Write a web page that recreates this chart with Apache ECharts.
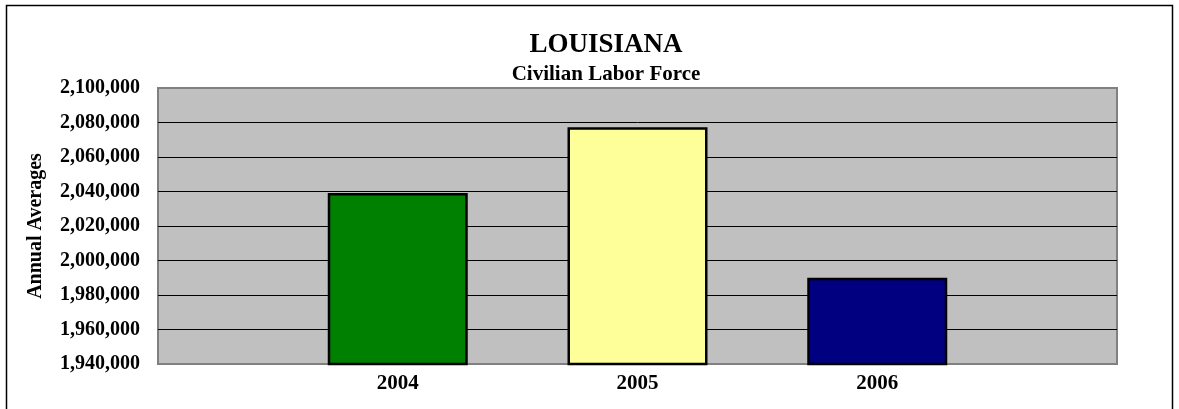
<!DOCTYPE html>
<html>
<head>
<meta charset="utf-8">
<script src="https://cdn.jsdelivr.net/npm/echarts@6/dist/echarts.min.js"></script>
<style>
  html, body { margin: 0; padding: 0; background: #fff; }
  #laborForceChart { width: 1179px; height: 409px; }
</style>
</head>
<body>
<div id="laborForceChart"></div>
<script>
// data
const years = ["", "2004", "2005", "2006", ""];
const laborForce = ["-", 2039100, 2077200, 1990000, "-"];
const barColors = [null, "#008000", "#FFFF99", "#000080", null];
const yTicks = { min: 1940000, max: 2100000, interval: 20000 };

const serif = "Liberation Serif";

function withCommas(v) {
  return String(v).replace(/\B(?=(\d{3})+(?!\d))/g, ",");
}

const chart = echarts.init(document.getElementById("laborForceChart"));

const option = {
  backgroundColor: "#fff",
  animation: false,
  title: [
    {
      text: "LOUISIANA",
      left: 601,
      top: 27,
      textAlign: "center",
      textStyle: { fontFamily: serif, fontWeight: "bold", fontSize: 27, color: "#000" },
    },
    {
      text: "Civilian Labor Force",
      left: 601,
      top: 59,
      textAlign: "center",
      textStyle: { fontFamily: serif, fontWeight: "bold", fontSize: 21, color: "#000" },
    },
  ],
  graphic: [
    {
      type: "rect",
      silent: true,
      shape: { x: 6.5, y: 5.5, width: 1166, height: 420 },
      style: { fill: null, stroke: "#000", lineWidth: 1.5 },
    },
  ],
  grid: {
    left: 158,
    right: 62,
    top: 88,
    bottom: 45,
    show: true,
    backgroundColor: "#C0C0C0",
    borderColor: "#808080",
    borderWidth: 2,
  },
  xAxis: {
    type: "category",
    data: years,
    boundaryGap: false,
    axisLine: { show: false },
    axisTick: { show: false },
    splitLine: { show: false },
    axisLabel: {
      margin: 9,
      fontFamily: serif,
      fontWeight: "bold",
      fontSize: 21,
      color: "#000",
    },
  },
  yAxis: {
    type: "value",
    min: yTicks.min,
    max: yTicks.max,
    interval: yTicks.interval,
    name: "Annual Averages",
    nameLocation: "middle",
    nameGap: 112,
    nameTextStyle: { fontFamily: serif, fontWeight: "bold", fontSize: 20, color: "#000" },
    axisLine: { show: false },
    axisTick: { show: false },
    splitLine: {
      showMinLine: false,
      showMaxLine: false,
      lineStyle: { color: "#000", width: 1 },
    },
    axisLabel: {
      margin: 18,
      fontFamily: serif,
      fontWeight: "bold",
      fontSize: 20,
      color: "#000",
      formatter: withCommas,
    },
  },
  series: [
    {
      type: "bar",
      barWidth: 140,
      data: laborForce.map((v, i) => ({
        value: v,
        itemStyle: { color: barColors[i] || "#000", borderColor: "#000", borderWidth: 2.5 },
      })),
    },
  ],
};

chart.setOption(option);
</script>
</body>
</html>
